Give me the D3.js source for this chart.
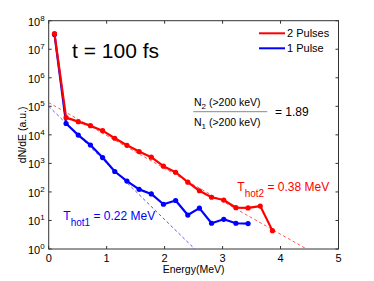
<!DOCTYPE html>
<html>
<head>
<meta charset="utf-8">
<script src="https://cdnjs.cloudflare.com/ajax/libs/d3/7.8.5/d3.min.js"></script>
<style>
  body { margin: 0; background: #fff; }
  svg text { font-family: "Liberation Sans", Arial, sans-serif; }
</style>
</head>
<body>
<div id="chart"></div>
<script>
// energies (MeV) and dN/dE values
let energy = [0.1, 0.3, 0.51, 0.72, 0.93, 1.14, 1.35, 1.56, 1.77, 1.98, 2.19, 2.4, 2.6, 2.81, 3.02, 3.23, 3.44, 3.65, 3.86];
let twoPulses = [3.5e7, 4.0e4, 2.9e4, 2.1e4, 1.4e4, 7.6e3, 4.3e3, 2.6e3, 1.65e3, 8.0e2, 4.9e2, 2.2e2, 1.1e2, 65, 52, 28, 27.5, 32, 4.4];
let onePulse = [3.3e7, 2.5e4, 9.8e3, 4.4e3, 1.6e3, 5.2e2, 2.4e2, 1.23e2, 85, 37, 50, 15.5, 27, 8, 11, 8, 7.8];

// exponential fits, end points of the dashed lines [E, dN/dE]
let fit2 = [[0, 1.35e5], [4.45, 1]];
let fit1 = [[0, 1.0e5], [2.52, 1]];

let legendNames = ["2 Pulses", "1 Pulse"];
let xTicks = [0, 1, 2, 3, 4, 5];
let yTicks = [1, 10, 1e2, 1e3, 1e4, 1e5, 1e6, 1e7, 1e8];

var W = 374, H = 281;
var pLeft = 48.7, pRight = 338.5, pTop = 20.7, pBottom = 249;

var svg = d3.select("#chart").append("svg")
  .attr("width", W).attr("height", H);

var x = d3.scaleLinear().domain([0, 5]).range([pLeft, pRight]);
var y = d3.scaleLog().domain([1, 1e8]).range([pBottom, pTop]);

svg.append("defs").append("clipPath").attr("id", "plotclip")
  .append("rect").attr("x", pLeft).attr("y", pTop)
  .attr("width", pRight - pLeft).attr("height", pBottom - pTop);

// frame
svg.append("rect")
  .attr("x", pLeft).attr("y", pTop)
  .attr("width", pRight - pLeft).attr("height", pBottom - pTop)
  .attr("fill", "none").attr("stroke", "#333").attr("stroke-width", 1);

// ticks, inward on all four sides
xTicks.forEach(function(t) {
  svg.append("line").attr("x1", x(t)).attr("x2", x(t)).attr("y1", pBottom).attr("y2", pBottom - 3).attr("stroke", "#333");
  svg.append("line").attr("x1", x(t)).attr("x2", x(t)).attr("y1", pTop).attr("y2", pTop + 3).attr("stroke", "#333");
  svg.append("text").attr("x", x(t)).attr("y", 262)
    .attr("text-anchor", "middle").attr("font-size", 11).text(t);
});
yTicks.forEach(function(t) {
  svg.append("line").attr("x1", pLeft).attr("x2", pLeft + 3).attr("y1", y(t)).attr("y2", y(t)).attr("stroke", "#333");
  svg.append("line").attr("x1", pRight).attr("x2", pRight - 3).attr("y1", y(t)).attr("y2", y(t)).attr("stroke", "#333");
  var lbl = svg.append("text").attr("x", 28).attr("y", y(t) + 5).attr("font-size", 11);
  lbl.append("tspan").text("10");
  lbl.append("tspan").attr("dy", -5).attr("font-size", 8).text(Math.round(Math.log10(t)));
});

// fit lines
var line = d3.line().x(function(d) { return x(d[0]); }).y(function(d) { return y(d[1]); });
var plot = svg.append("g").attr("clip-path", "url(#plotclip)");
plot.append("path").datum(fit1).attr("d", line)
  .attr("fill", "none").attr("stroke", "#5555ff").attr("stroke-width", 1).attr("stroke-dasharray", "3,2.5");
plot.append("path").datum(fit2).attr("d", line)
  .attr("fill", "none").attr("stroke", "#ff5555").attr("stroke-width", 1).attr("stroke-dasharray", "3,2.5");

// data series
var series = [
  { vals: onePulse, color: "#0000ff" },
  { vals: twoPulses, color: "#ff0000" }
];
series.forEach(function(s) {
  var pts = s.vals.map(function(v, i) { return [energy[i], v]; });
  plot.append("path").datum(pts).attr("d", line)
    .attr("fill", "none").attr("stroke", s.color).attr("stroke-width", 2.2)
    .attr("stroke-linejoin", "round");
  plot.selectAll(null).data(pts).enter().append("circle")
    .attr("cx", function(d) { return x(d[0]); })
    .attr("cy", function(d) { return y(d[1]); })
    .attr("r", 2.6).attr("fill", s.color);
});

// legend
var legColors = ["#ff0000", "#0000ff"];
legendNames.forEach(function(n, i) {
  var ly = 33.3 + i * 15;
  svg.append("line").attr("x1", 259).attr("x2", 285).attr("y1", ly).attr("y2", ly)
    .attr("stroke", legColors[i]).attr("stroke-width", 2);
  svg.append("text").attr("x", 287).attr("y", ly + 4).attr("font-size", 11).text(n);
});

// title text
svg.append("text").attr("x", 72).attr("y", 58).attr("font-size", 21).text("t = 100 fs");

// ratio
var num = svg.append("text").attr("x", 194).attr("y", 106).attr("font-size", 10.5);
num.append("tspan").text("N");
num.append("tspan").attr("dy", 3).attr("font-size", 8).text("2");
num.append("tspan").attr("dy", -3).text(" (>200 keV)");
svg.append("line").attr("x1", 193.3).attr("x2", 267.3).attr("y1", 111.7).attr("y2", 111.7)
  .attr("stroke", "#888").attr("stroke-width", 1);
var den = svg.append("text").attr("x", 194).attr("y", 125.5).attr("font-size", 10.5);
den.append("tspan").text("N");
den.append("tspan").attr("dy", 3).attr("font-size", 8).text("1");
den.append("tspan").attr("dy", -3).text(" (>200 keV)");
svg.append("text").attr("x", 275).attr("y", 115.5).attr("font-size", 12).text("= 1.89");

// temperature labels
function tempLabel(tx, ty, sub, rest, color) {
  var t = svg.append("text").attr("x", tx).attr("y", ty).attr("font-size", 12).attr("fill", color);
  t.append("tspan").text("T");
  t.append("tspan").attr("dy", 6).attr("font-size", 10).text(sub);
  t.append("tspan").attr("dy", -6).text(" = " + rest);
}
tempLabel(237.3, 191, "hot2", "0.38 MeV", "#ff0000");
tempLabel(63.3, 219.5, "hot1", "0.22 MeV", "#0000ff");

// axis titles
svg.append("text").attr("x", (pLeft + pRight) / 2).attr("y", 273)
  .attr("text-anchor", "middle").attr("font-size", 10.5).text("Energy(MeV)");
svg.append("text").attr("transform", "translate(26," + ((pTop + pBottom) / 2) + ") rotate(-90)")
  .attr("text-anchor", "middle").attr("font-size", 10.5).text("dN/dE (a.u.)");
</script>
</body>
</html>
